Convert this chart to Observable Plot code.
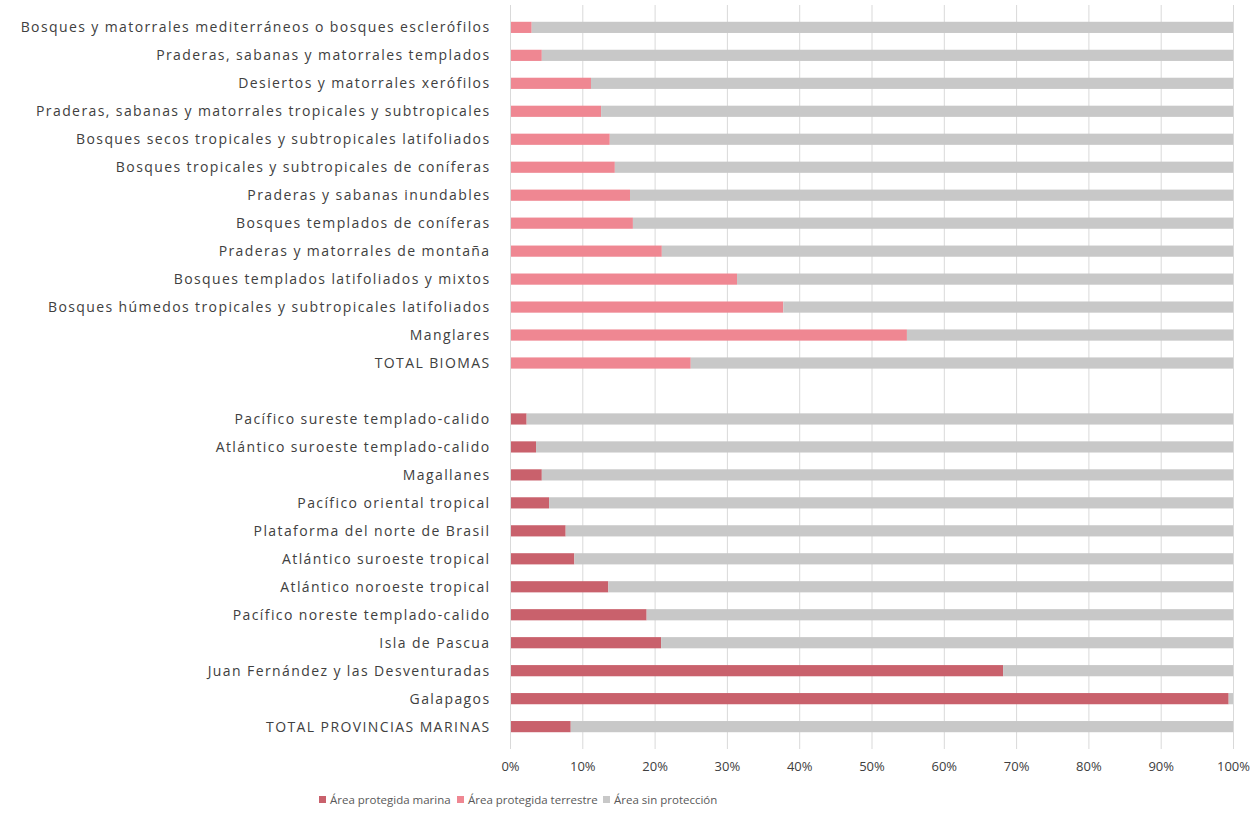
<!DOCTYPE html>
<html><head><meta charset="utf-8">
<script src="https://cdn.jsdelivr.net/npm/d3@7"></script>
<script src="https://cdn.jsdelivr.net/npm/@observablehq/plot@0.6"></script>
<style>
body{margin:0;background:#fff;font-family:"Open Sans",sans-serif;}
#legend{position:relative;height:38px;font-size:11.5px;color:#595959;}
.item{position:absolute;top:11px;display:flex;align-items:center;white-space:nowrap;}
.sw{width:7px;height:7px;margin-right:4px;display:inline-block;}
</style></head><body>
<div id="chart"></div>
<div id="legend"></div>
<script>
const biomas = [
  "Bosques y matorrales mediterráneos o bosques esclerófilos",
  "Praderas, sabanas y matorrales templados",
  "Desiertos y matorrales xerófilos",
  "Praderas, sabanas y matorrales tropicales y subtropicales",
  "Bosques secos tropicales y subtropicales latifoliados",
  "Bosques tropicales y subtropicales de coníferas",
  "Praderas y sabanas inundables",
  "Bosques templados de coníferas",
  "Praderas y matorrales de montaña",
  "Bosques templados latifoliados y mixtos",
  "Bosques húmedos tropicales y subtropicales latifoliados",
  "Manglares",
  "TOTAL BIOMAS"
];
const biomasValues = [3.0, 4.4, 11.2, 12.6, 13.8, 14.5, 16.6, 17.0, 21.0, 31.4, 37.8, 54.9, 25.0];
const marinas = [
  "Pacífico sureste templado-calido",
  "Atlántico suroeste templado-calido",
  "Magallanes",
  "Pacífico oriental tropical",
  "Plataforma del norte de Brasil",
  "Atlántico suroeste tropical",
  "Atlántico noroeste tropical",
  "Pacífico noreste templado-calido",
  "Isla de Pascua",
  "Juan Fernández y las Desventuradas",
  "Galapagos",
  "TOTAL PROVINCIAS MARINAS"
];
const marinasValues = [2.3, 3.6, 4.4, 5.4, 7.7, 8.9, 13.6, 18.9, 20.9, 68.2, 99.4, 8.4];
const series = ["Área protegida marina", "Área protegida terrestre", "Área sin protección"];
const colors = ["#c9616c", "#ef8792", "#c8c8c8"];
const xTicks = [0, 10, 20, 30, 40, 50, 60, 70, 80, 90, 100];

const rows = [];
biomas.forEach((b, i) => {
  rows.push({name: b, serie: series[1], x1: 0, x2: biomasValues[i]});
  rows.push({name: b, serie: series[2], x1: biomasValues[i], x2: 100});
});
marinas.forEach((m, i) => {
  rows.push({name: m, serie: series[0], x1: 0, x2: marinasValues[i]});
  rows.push({name: m, serie: series[2], x1: marinasValues[i], x2: 100});
});
const domainY = [...biomas, " ", ...marinas];

const chart = Plot.plot({
  width: 1259,
  height: 781,
  marginLeft: 510,
  marginRight: 26,
  marginTop: 5,
  marginBottom: 32,
  style: {fontFamily: "Open Sans, sans-serif", fontSize: "13px", color: "#404040"},
  x: {domain: [0, 100], ticks: xTicks, tickFormat: d => d + "%", tickSize: 0, tickPadding: 12, label: null},
  y: {domain: domainY, label: null, axis: null, padding: 0.6, round: false},
  color: {domain: series, range: colors},
  marks: [
    Plot.gridX(xTicks, {stroke: "#d9d9d9", strokeOpacity: 1}),
    Plot.barX(rows, {y: "name", x1: "x1", x2: "x2", fill: "serie"}),
    Plot.ruleX([0], {stroke: "#d9d9d9"}),
    Plot.axisY({tickSize: 0, tickPadding: 20, fontSize: 14, label: null, fill: "#404040"})
  ]
});
chart.querySelectorAll('[aria-label="y-axis tick label"] text').forEach(t => t.setAttribute("letter-spacing", "1.4"));
document.getElementById("chart").appendChild(chart);

const legend = document.getElementById("legend");
const lx = [319, 457, 603];
series.forEach((s, i) => {
  const d = document.createElement("div");
  d.className = "item";
  d.style.left = lx[i] + "px";
  d.innerHTML = `<span class="sw" style="background:${colors[i]}"></span>${s}`;
  legend.appendChild(d);
});
</script>
</body></html>
